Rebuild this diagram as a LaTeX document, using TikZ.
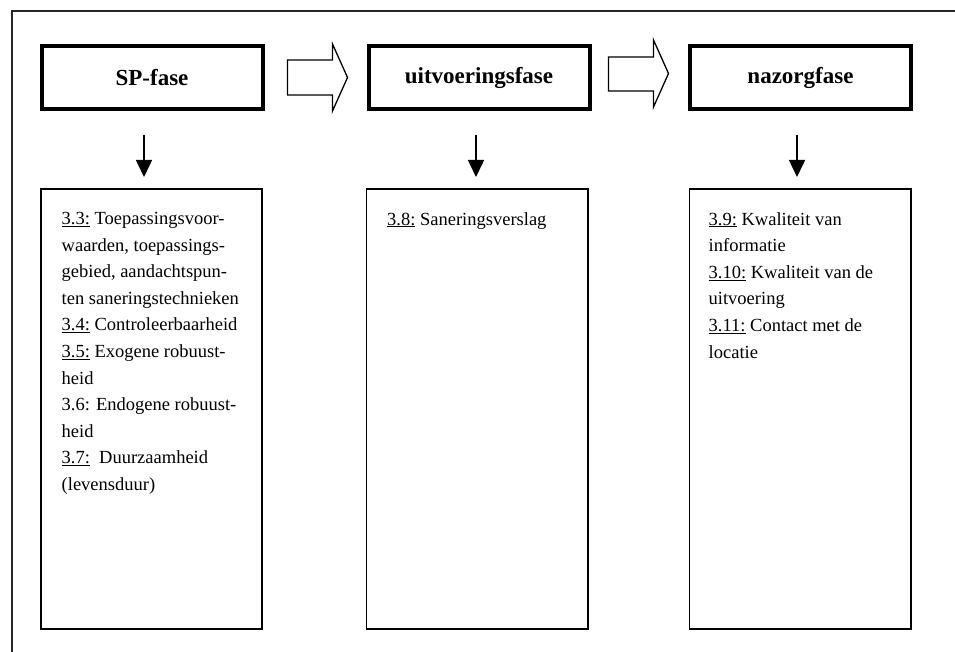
\documentclass[tikz,border=0pt]{standalone}
\usepackage{fontspec}
\setmainfont{Liberation Serif}
\usetikzlibrary{calc,arrows.meta}

\tikzset{
  phase/.style={draw, line width=4pt, minimum width=221pt, minimum height=63pt,
    inner sep=0pt, font=\fontsize{23}{27}\selectfont\bfseries},
  listbox/.style={draw, line width=1.6pt, minimum width=221.4pt, minimum height=440.4pt,
    inner sep=0pt},
  listtext/.style={anchor=north west, align=left, inner sep=0pt,
    font=\fontsize{18.5}{26.6}\selectfont},
  blockarrow/.style={draw, line width=1.3pt, line join=miter, fill=white},
  downarrow/.style={draw, line width=1.5pt, -{Triangle[width=16pt,length=17pt]}},
  frameline/.style={draw, line width=1.6pt, black!85}
}

\begin{document}
\begin{tikzpicture}[x=1pt, y=-1pt]
  \useasboundingbox (0,0) rectangle (955,652);

  % open frame: top and left edge
  \draw[frameline] (955,11) -- (12,11) -- (12,652);

  % phase headers
  \node[phase] (sp)   at (152,77.5)   {SP-fase};
  \node[phase] (uitv) at (479,77.5)   {uitvoeringsfase};
  \node[phase] (nazo) at (800.5,77.5) {nazorgfase};

  % boxes listing the sections per phase
  \node[listbox] (lsp)   at (151.5,409) {};
  \node[listbox] (luitv) at (477,409)   {};
  \node[listbox] (lnazo) at (800,409)   {};

  % block arrows between the phases
  \draw[blockarrow] ($(sp.east)+(23,-17.5)$) -- ++(45,0) -- ++(0,-16) -- ++(15,33.5)
    -- ++(-15,33.5) -- ++(0,-16) -- ++(-45,0) -- cycle;
  \draw[blockarrow] ($(uitv.east)+(17,-20.5)$) -- ++(45,0) -- ++(0,-17) -- ++(15,33.5)
    -- ++(-15,33.5) -- ++(0,-16) -- ++(-45,0) -- cycle;

  % arrows from each phase down to its list
  \draw[downarrow, shorten <=24pt, shorten >=11pt]
    ([xshift=-8pt]sp.south) -- ([xshift=-8pt]sp.south |- lsp.north);
  \draw[downarrow, shorten <=24pt, shorten >=11pt]
    ([xshift=-3pt]uitv.south) -- ([xshift=-3pt]uitv.south |- luitv.north);
  \draw[downarrow, shorten <=24pt, shorten >=11pt]
    ([xshift=-3.5pt]nazo.south) -- ([xshift=-3.5pt]nazo.south |- lnazo.north);

  % list texts
  \node[listtext] (tsp) at ([xshift=21.5pt, yshift=-24pt]lsp.north west)
    {\underline{3.3:} Toepassingsvoor-\\
     waarden, toepassings-\\
     gebied, aandachtspun-\\
     ten saneringstechnieken\\
     \underline{3.4:} Controleerbaarheid\\
     \underline{3.5:} Exogene robuust-\\
     heid\\
     3.6: Endogene robuust-\\
     heid\\
     \underline{3.7:}\ \ Duurzaamheid\\
     (levensduur)};
  \node[listtext] (tuitv) at ([xshift=21.5pt, yshift=-24pt]luitv.north west)
    {\underline{3.8:} Saneringsverslag};
  \node[listtext] (tnazo) at ([xshift=20pt, yshift=-24pt]lnazo.north west)
    {\underline{3.9:} Kwaliteit van\\
     informatie\\
     \underline{3.10:} Kwaliteit van de\\
     uitvoering\\
     \underline{3.11:} Contact met de\\
     locatie};
\end{tikzpicture}
\end{document}
